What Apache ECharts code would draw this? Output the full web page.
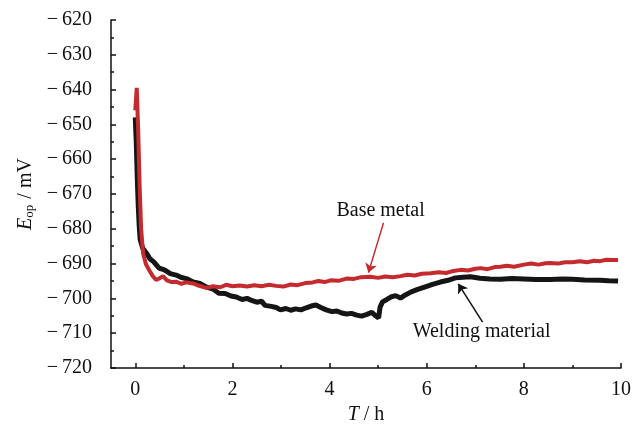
<!DOCTYPE html>
<html>
<head>
<meta charset="utf-8">
<title>Eop vs T</title>
<script src="https://cdn.jsdelivr.net/npm/echarts@6.0.0/dist/echarts.min.js"></script>
<style>
  html, body { margin: 0; padding: 0; background: #fff; }
  #container { width: 633px; height: 435px; }
</style>
</head>
<body>
<div id="container"></div>
<script>
// 时间轴刻度
var xMajorTicks = [0, 2, 4, 6, 8, 10];
var xMinorTicks = [1, 3, 5, 7, 9];

// Base metal (红线)
var baseT = [0, 0.03, 0.06, 0.09, 0.12, 0.16, 0.22, 0.29, 0.36, 0.43, 0.5, 0.57, 0.65, 0.75, 0.84, 0.95,
	1.05, 1.19, 1.3, 1.46, 1.6, 1.75, 1.87, 2.0, 2.15, 2.3, 2.45, 2.6, 2.75, 2.9, 3.05, 3.2, 3.34, 3.5,
	3.65, 3.77, 3.9, 4.02, 4.2, 4.35, 4.5, 4.65, 4.84, 5.0, 5.15, 5.3, 5.46, 5.6, 5.75, 5.9, 6.08, 6.25,
	6.4, 6.55, 6.7, 6.85, 7.0, 7.11, 7.25, 7.4, 7.52, 7.65, 7.8, 8.0, 8.15, 8.3, 8.45, 8.54, 8.7, 8.85,
	9.0, 9.15, 9.3, 9.45, 9.57, 9.7, 9.85, 9.94];
var baseE = [-646, -639.5, -652, -668, -680, -687, -690.2, -692, -693.6, -694.7, -694.2, -693.6, -694.8, -695.3, -695.2, -695.8,
	-695.4, -695.7, -696.3, -697.0, -696.5, -696.8, -696.1, -696.5, -696.3, -696.6, -696.2, -696.5, -696.1, -696.4, -696.6, -696.0, -696.2, -695.6,
	-695.4, -695.0, -695.3, -694.8, -694.9, -694.3, -694.4, -693.9, -693.8, -694.1, -693.7, -693.9, -693.6, -693.2, -693.4, -692.9, -692.8, -692.5,
	-692.7, -692.1, -691.8, -692.0, -691.5, -691.3, -691.6, -691.0, -690.9, -690.6, -690.9, -690.3, -690.0, -690.3, -689.9, -689.8, -690.0, -689.6,
	-689.6, -689.3, -689.6, -689.2, -689.3, -688.9, -689.0, -689.0];

// Welding material (黑线)
var weldT = [0, 0.02, 0.04, 0.06, 0.08, 0.1, 0.15, 0.23, 0.3, 0.38, 0.49, 0.6, 0.72, 0.84, 0.95, 1.07,
	1.19, 1.33, 1.46, 1.6, 1.72, 1.85, 1.97, 2.08, 2.2, 2.3, 2.38, 2.5, 2.6, 2.67, 2.8, 2.9, 2.99, 3.1,
	3.2, 3.3, 3.41, 3.52, 3.62, 3.72, 3.82, 3.93, 4.05, 4.15, 4.25, 4.35, 4.45, 4.56, 4.66, 4.77, 4.87,
	4.95, 5.01, 5.04, 5.09, 5.18, 5.26, 5.36, 5.46, 5.56, 5.67, 5.8, 5.97, 6.12, 6.28, 6.44, 6.59, 6.75,
	6.9, 7.1, 7.3, 7.52, 7.75, 8.0, 8.25, 8.54, 8.8, 9.0, 9.25, 9.57, 9.75, 9.94];
var weldE = [-648, -655, -665, -673, -679, -683, -685.5, -687, -688.6, -689.5, -691.3, -691.8, -692.9, -693.3, -694.0, -694.4,
	-695.3, -695.7, -696.7, -697.3, -698.5, -698.6, -699.3, -699.6, -700.3, -700.0, -700.5, -701.1, -700.8, -702.0, -702.3, -702.6, -703.3, -702.9,
	-703.4, -703.0, -703.3, -702.7, -702.2, -701.9, -702.6, -703.3, -703.8, -703.6, -704.2, -704.5, -704.3, -704.8, -705.1, -704.6, -704.0,
	-705.0, -705.6, -702.5, -701.0, -700.3, -699.6, -699.2, -699.9, -699.0, -698.2, -697.5, -696.7, -696.0, -695.3, -694.8, -694.1, -693.9,
	-693.8, -694.2, -694.4, -694.5, -694.3, -694.4, -694.6, -694.6, -694.4, -694.5, -694.7, -694.8, -694.9, -695.0];

function pairs(t, v) {
	var out = [];
	for (var i = 0; i < t.length; i++) {
		out.push([t[i], v[i]]);
	}
	return out;
}

var font = 'Liberation Serif, Times New Roman, serif';

init();

function init() {
	var myChart = echarts.init(document.getElementById('container'), null, { renderer: 'canvas' });
	var option = {
		animation: false,
		backgroundColor: '#fff',
		grid: { left: 111, right: 12, top: 20, bottom: 67, outerBoundsMode: 'none' },
		xAxis: [{
			type: 'value',
			min: -0.5,
			max: 10,
			name: '{i|T}{n| / h}',
			nameLocation: 'middle',
			nameGap: 27,
			nameTextStyle: {
				rich: {
					i: { fontFamily: font, fontSize: 20, fontStyle: 'italic', color: '#111' },
					n: { fontFamily: font, fontSize: 20, color: '#111' }
				}
			},
			axisLine: { show: true, onZero: false, lineStyle: { color: '#111', width: 1.5 } },
			axisTick: { show: true, inside: true, length: 5, customValues: xMajorTicks, lineStyle: { color: '#111', width: 1.5 } },
			axisLabel: { customValues: xMajorTicks, margin: 12, fontFamily: font, fontSize: 20, color: '#111' },
			splitLine: { show: false }
		}, {
			type: 'value',
			min: -0.5,
			max: 10,
			position: 'bottom',
			axisLine: { show: false },
			axisTick: { show: true, inside: true, length: 3, customValues: xMinorTicks, lineStyle: { color: '#111', width: 1.5 } },
			axisLabel: { show: false },
			splitLine: { show: false }
		}],
		yAxis: {
			type: 'value',
			min: -720,
			max: -620,
			interval: 10,
			name: '{i|E}{s|op}{n| / mV}',
			nameLocation: 'middle',
			nameGap: 72,
			nameTextStyle: {
				rich: {
					i: { fontFamily: font, fontSize: 20, fontStyle: 'italic', color: '#111' },
					s: { fontFamily: font, fontSize: 13, color: '#111', verticalAlign: 'bottom', padding: [8, 1, 0, 0] },
					n: { fontFamily: font, fontSize: 20, color: '#111' }
				}
			},
			axisLine: { show: true, onZero: false, lineStyle: { color: '#111', width: 1.5 } },
			axisTick: { show: true, inside: true, length: 5, lineStyle: { color: '#111', width: 1.5 } },
			minorTick: { show: true, splitNumber: 2, length: 3, lineStyle: { color: '#111', width: 1.5 } },
			axisLabel: {
				margin: 19,
				fontFamily: font,
				fontSize: 20,
				color: '#111',
				formatter: function (v) {
					return '\u2212\u2009' + Math.abs(v);
				}
			},
			splitLine: { show: false }
		},
		series: [{
			name: 'Welding material',
			type: 'line',
			xAxisIndex: 0,
			data: pairs(weldT, weldE),
			showSymbol: false,
			smooth: false,
			lineStyle: { color: '#151515', width: 5 },
			itemStyle: { color: '#151515' },
			z: 2,
			markPoint: {
				silent: true,
				symbol: 'circle',
				symbolSize: 0,
				label: { show: true, position: 'inside', formatter: 'Welding material', fontFamily: font, fontSize: 20, color: '#111' },
				data: [{ coord: [7.13, -709.7] }]
			},
			markLine: {
				silent: true,
				symbol: ['none', 'arrow'],
				symbolSize: 9,
				label: { show: false },
				lineStyle: { color: '#111', width: 1.5, type: 'solid' },
				data: [[{ coord: [7.15, -706.8] }, { coord: [6.65, -695.8] }]]
			}
		}, {
			name: 'Base metal',
			type: 'line',
			xAxisIndex: 0,
			data: pairs(baseT, baseE),
			showSymbol: false,
			smooth: false,
			lineStyle: { color: '#c42a2e', width: 4 },
			itemStyle: { color: '#c42a2e' },
			z: 3,
			markPoint: {
				silent: true,
				symbol: 'circle',
				symbolSize: 0,
				label: { show: true, position: 'inside', formatter: 'Base metal', fontFamily: font, fontSize: 20, color: '#111' },
				data: [{ coord: [5.05, -674.9] }]
			},
			markLine: {
				silent: true,
				symbol: ['none', 'arrow'],
				symbolSize: 9,
				label: { show: false },
				lineStyle: { color: '#c42a2e', width: 1.5, type: 'solid' },
				data: [[{ coord: [5.11, -678.3] }, { coord: [4.8, -692.6] }]]
			}
		}]
	};
	if (option && typeof option === "object") {
		myChart.setOption(option, true);
	}
}
</script>
</body>
</html>
